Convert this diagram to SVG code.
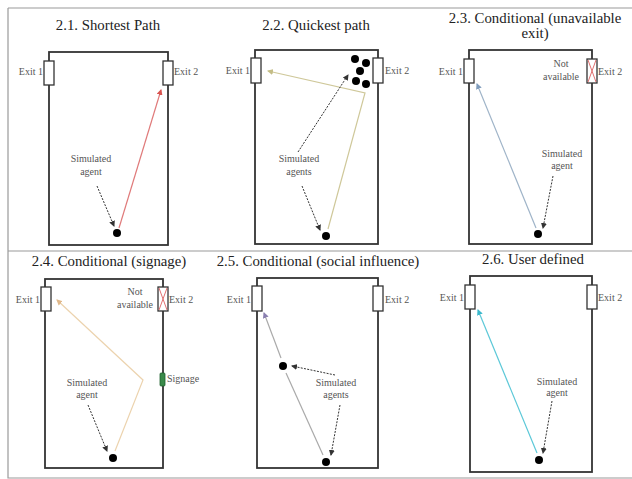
<svg xmlns="http://www.w3.org/2000/svg" width="632" height="479" viewBox="0 0 632 479">
<style>
.frame{stroke:#9a9a9a;stroke-width:1.2;fill:none}
.wall{fill:none;stroke:#333;stroke-width:1.8}
.exit{fill:#fff;stroke:#333;stroke-width:1.3}
.xmark{stroke:#e07070;stroke-width:1}
text{font-family:"Liberation Serif","Times New Roman","DejaVu Serif",serif}
.title{font-size:14.8px;fill:#222;text-anchor:middle}
.lbl{font-size:10px;fill:#555}
.mid{text-anchor:middle}
.end{text-anchor:end}
.ptr{fill:none;stroke:#333;stroke-width:1;stroke-dasharray:2 1.3;marker-end:url(#ah)}
.agent{fill:#000}
.path{fill:none;stroke-width:1.2}
</style>
<defs>
<marker id="ah" markerWidth="6" markerHeight="6" refX="5" refY="3" orient="auto" markerUnits="userSpaceOnUse"><path d="M0,0 L6,3 L0,6 z" fill="#333"/></marker>
<marker id="ahRed" markerWidth="6" markerHeight="6" refX="5" refY="3" orient="auto" markerUnits="userSpaceOnUse"><path d="M0,0 L6,3 L0,6 z" fill="#d9534f"/></marker>
<marker id="ahYel" markerWidth="6" markerHeight="6" refX="5" refY="3" orient="auto" markerUnits="userSpaceOnUse"><path d="M0,0 L6,3 L0,6 z" fill="#c4bd86"/></marker>
<marker id="ahBlue" markerWidth="6" markerHeight="6" refX="5" refY="3" orient="auto" markerUnits="userSpaceOnUse"><path d="M0,0 L6,3 L0,6 z" fill="#7f9cbc"/></marker>
<marker id="ahOr" markerWidth="6" markerHeight="6" refX="5" refY="3" orient="auto" markerUnits="userSpaceOnUse"><path d="M0,0 L6,3 L0,6 z" fill="#e0b88a"/></marker>
<marker id="ahGray" markerWidth="6" markerHeight="6" refX="5" refY="3" orient="auto" markerUnits="userSpaceOnUse"><path d="M0,0 L6,3 L0,6 z" fill="#8a7fb0"/></marker>
<marker id="ahCyan" markerWidth="6" markerHeight="6" refX="5" refY="3" orient="auto" markerUnits="userSpaceOnUse"><path d="M0,0 L6,3 L0,6 z" fill="#3bb8cc"/></marker>
</defs>
<rect width="632" height="479" fill="#fff"/>
<g id="frame">
<path class="frame" d="M8,8 H632 M8,8 V478 H632 M8,251 H632"/>
</g>

<g id="panel-2-1">
<text class="title" x="108" y="30">2.1. Shortest Path</text>
<rect class="wall" x="49" y="52" width="119" height="193"/>
<rect class="exit" x="44" y="61" width="10" height="24"/>
<rect class="exit" x="163" y="61" width="10" height="24"/>
<text class="lbl end" x="43" y="75">Exit 1</text>
<text class="lbl" x="174" y="75">Exit 2</text>
<circle class="agent" cx="117" cy="233" r="4"/>
<text class="lbl mid" x="91" y="162">Simulated</text>
<text class="lbl mid" x="91" y="175">agent</text>
</g>

<g id="panel-2-2">
<text class="title" x="316" y="30">2.2. Quickest path</text>
<rect class="wall" x="255" y="50" width="123" height="194"/>
<rect class="exit" x="251" y="58" width="10" height="25"/>
<rect class="exit" x="373" y="58" width="10" height="25"/>
<text class="lbl end" x="250" y="74">Exit 1</text>
<text class="lbl" x="385" y="74">Exit 2</text>
<circle class="agent" cx="355" cy="59" r="4"/>
<circle class="agent" cx="366" cy="63" r="4"/>
<circle class="agent" cx="360" cy="71" r="4"/>
<circle class="agent" cx="356" cy="81" r="4"/>
<circle class="agent" cx="366" cy="84" r="4"/>
<circle class="agent" cx="326" cy="236" r="4"/>
<text class="lbl mid" x="299" y="162">Simulated</text>
<text class="lbl mid" x="299" y="175">agents</text>
</g>

<g id="panel-2-3">
<text class="title" x="535" y="23">2.3. Conditional (unavailable</text>
<text class="title" x="535" y="38">exit)</text>
<rect class="wall" x="469" y="50" width="123" height="194"/>
<rect class="exit" x="464" y="59" width="10" height="24"/>
<rect class="exit" x="587" y="59" width="10" height="24"/>
<path class="xmark" d="M588,60 L596,82 M596,60 L588,82"/>
<text class="lbl end" x="463" y="75">Exit 1</text>
<text class="lbl" x="598" y="75">Exit 2</text>
<text class="lbl mid" x="561" y="67">Not</text>
<text class="lbl mid" x="561" y="80">available</text>
<circle class="agent" cx="538" cy="234" r="4"/>
<text class="lbl mid" x="562" y="157">Simulated</text>
<text class="lbl mid" x="562" y="169">agent</text>
</g>

<g id="panel-2-4">
<text class="title" x="109" y="266">2.4. Conditional (signage)</text>
<rect class="wall" x="45" y="279" width="118" height="189"/>
<rect class="exit" x="41" y="287" width="10" height="24"/>
<rect class="exit" x="158" y="287" width="10" height="24"/>
<path class="xmark" d="M159,288 L167,310 M167,288 L159,310"/>
<text class="lbl end" x="40" y="303">Exit 1</text>
<text class="lbl" x="169" y="303">Exit 2</text>
<text class="lbl mid" x="135" y="295">Not</text>
<text class="lbl mid" x="135" y="308">available</text>
<rect x="160" y="373" width="5" height="13" rx="1" fill="#3a8a4a" stroke="#1f5f2f" stroke-width="0.8"/>
<text class="lbl" x="167" y="382">Signage</text>
<circle class="agent" cx="113" cy="458" r="4"/>
<text class="lbl mid" x="87" y="386">Simulated</text>
<text class="lbl mid" x="87" y="398">agent</text>
</g>

<g id="panel-2-5">
<text class="title" x="318" y="266">2.5. Conditional (social influence)</text>
<rect class="wall" x="257" y="278" width="121" height="190"/>
<rect class="exit" x="252" y="286" width="10" height="25"/>
<rect class="exit" x="373" y="286" width="10" height="25"/>
<text class="lbl end" x="251" y="303">Exit 1</text>
<text class="lbl" x="385" y="303">Exit 2</text>
<circle class="agent" cx="283" cy="366" r="4"/>
<circle class="agent" cx="326" cy="462" r="4"/>
<text class="lbl mid" x="336" y="386">Simulated</text>
<text class="lbl mid" x="336" y="398">agents</text>
</g>

<g id="panel-2-6">
<text class="title" x="533" y="264">2.6. User defined</text>
<rect class="wall" x="470" y="276" width="122" height="196"/>
<rect class="exit" x="465" y="285" width="10" height="24"/>
<rect class="exit" x="587" y="285" width="10" height="24"/>
<text class="lbl end" x="464" y="301">Exit 1</text>
<text class="lbl" x="598" y="301">Exit 2</text>
<circle class="agent" cx="539" cy="460" r="4"/>
<text class="lbl mid" x="557" y="385">Simulated</text>
<text class="lbl mid" x="557" y="396">agent</text>
</g>

<g id="connectors">
<path class="path" stroke="#e07a7a" d="M119,228 L161,90" marker-end="url(#ahRed)"/>
<path class="ptr" d="M97,186 L114,226"/>

<path class="path" stroke="#cfc89a" d="M328,229 L365,93 L268,71" marker-end="url(#ahYel)"/>
<path class="ptr" d="M298,152 L348,75"/>
<path class="ptr" d="M302,186 L320,230"/>

<path class="path" stroke="#9fb4c8" d="M536,228 L477,84" marker-end="url(#ahBlue)"/>
<path class="ptr" d="M553,176 L543,228"/>

<path class="path" stroke="#ecd3ae" d="M115,451 L143,380 L57,300" marker-end="url(#ahOr)"/>
<path class="ptr" d="M88,405 L107,451"/>

<path class="path" stroke="#aaaaaa" d="M323,455 L286,373"/>
<path class="path" stroke="#aaaaaa" d="M281,358 L264,313" marker-end="url(#ahGray)"/>
<path class="ptr" d="M335,375 L292,366"/>
<path class="ptr" d="M340,405 L331,455"/>

<path class="path" stroke="#5cc8d8" d="M537,453 L478,310" marker-end="url(#ahCyan)"/>
<path class="ptr" d="M552,401 L543,453"/>
</g>
</svg>
